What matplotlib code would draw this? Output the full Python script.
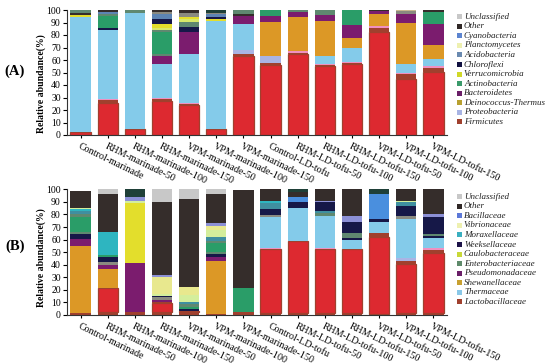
import matplotlib
matplotlib.use('Agg')
import matplotlib.pyplot as plt
from matplotlib.patches import Rectangle

plt.rcParams['font.family'] = ['Liberation Serif', 'DejaVu Serif']

samples = ['Control-marinade', 'RHM-marinade-50', 'RHM-marinade-100', 'RHM-marinade-150',
           'VPM-marinade-50', 'VPM-marinade-100', 'VPM-marinade-150',
           'Control-LD-tofu', 'RHM-LD-tofu-50', 'RHM-LD-tofu-100', 'RHM-LD-tofu-150',
           'VPM-LD-tofu-50', 'VPM-LD-tofu-100', 'VPM-LD-tofu-150']

# panel A (phylum level), stacked bottom to top
a_red = [2.5, 26, 4.5, 27.5, 24, 4.5, 63.5, 56.3, 65, 55, 57, 82.5, 44.5, 50.5]
a_brown = [0, 2, 0, 1.5, 1, 0, 1, 1, 1, 1, 1, 3.5, 4, 3.5]
a_pink = [0, 1, 0.5, 1, 1, 0.5, 0.5, 0.5, 1, 0.5, 0.5, 1.5, 1.5, 1]
a_lavender = [0, 0, 0, 0, 0, 0, 3, 5.2, 0, 0, 0, 0, 0, 0]
a_lightblue = [92, 55, 92.3, 27, 38.5, 86.5, 21, 0, 0, 6.5, 11.5, 0, 7, 6]
a_orange = [0, 0, 0, 0, 0, 0, 0, 27.7, 27.7, 28, 8, 9.5, 33, 11]
a_purple = [0, 0, 0, 6.5, 18.2, 0, 6, 4.3, 4, 5, 10, 2, 7, 17]
a_navy1 = [0, 2, 0, 0, 4, 0, 0, 0, 0, 0, 0, 0, 0, 0]
a_ggreen1 = [0, 0, 2.7, 1.5, 4, 0, 0, 0, 0, 0, 0, 0, 0, 0]
a_green = [0, 9, 0, 17.5, 0, 0, 0, 5, 0, 0, 12, 0, 0, 9.5]
a_ggreen2 = [0, 2, 0, 1.5, 0, 0, 0, 0, 1.3, 4, 0, 0, 0, 0]
a_yellowgreen = [0, 0, 0, 2, 1.8, 0, 0, 0, 0, 0, 0, 0, 0, 0]
a_yellow = [1.5, 0, 0, 3, 2.2, 1.5, 0, 0, 0, 0, 0, 0, 0, 0]
a_navy2 = [0, 0, 0, 4, 0, 1.5, 0, 0, 0, 0, 0, 0, 0, 0]
a_steel = [0, 1.5, 0, 3.5, 0, 2, 0, 0, 0, 0, 0, 0, 0, 0]
a_gray = [0, 0, 0, 2, 2.6, 1.5, 0, 0, 0, 0, 0, 0, 2, 0]
a_dark = [1.5, 1.5, 0, 1.5, 2.7, 0, 2, 0, 0, 0, 0, 1, 0, 1.5]
a_ggreen3 = [2.5, 0, 0, 0, 0, 0, 3, 0, 0, 0, 0, 0, 0, 0]
a_darkteal = [0, 0, 0, 0, 0, 2, 0, 0, 0, 0, 0, 0, 0, 0]
a_tan = [0, 0, 0, 0, 0, 0, 0, 0, 0, 0, 0, 0, 1, 0]

# panel B (family level), stacked bottom to top
b_brown0 = [1.5, 2, 2, 2, 2, 1, 2, 1.5, 1.5, 1.5, 1.5, 1, 1.5, 1.5]
b_red = [0, 19.2, 0, 7.3, 1.4, 0, 0, 51, 57, 51, 51, 61, 39.3, 47.5]
b_brown1 = [0, 0, 0, 1.2, 0, 0, 0, 0, 0, 0, 0, 3, 2.2, 3]
b_pink = [0, 0, 0, 0, 0, 0, 0, 0.5, 0, 0.5, 0, 0, 0, 1]
b_lavender = [0, 0, 0, 0, 0, 0, 0, 0, 0, 0, 0, 0, 2.5, 0]
b_lightblue = [0, 0, 0, 0, 0, 0, 0, 25, 26.5, 26, 7.5, 9, 31, 8.5]
b_orange = [53.7, 15.4, 0, 0, 0, 42, 0, 0, 0, 0, 0, 0, 0, 0]
b_purple = [5, 3.4, 39, 1.5, 0, 3, 0, 0, 0, 0, 0, 0, 0, 0]
b_gray1 = [0, 2, 0, 2, 0, 0, 0, 1.5, 0, 0, 0, 0, 2.5, 0]
b_navy1 = [4.3, 4, 0, 1, 1.3, 2.5, 0, 4.5, 4.5, 0, 1.5, 2, 7.7, 1]
b_ggreen1 = [1.5, 0, 0, 0, 0, 2, 0, 0, 0, 2, 3.5, 0, 0, 2]
b_green = [12, 2, 0, 0, 1.9, 6.5, 19.2, 0, 0, 0, 0, 0, 0, 0]
b_ggreen2 = [2, 0, 0, 0, 1.9, 1.5, 0, 0, 0, 0, 0, 0, 0, 0]
b_steel = [2.5, 0, 0, 0, 1.6, 3.5, 0, 5, 0, 2, 0, 0, 3.2, 0]
b_cyan = [1.5, 18, 0, 0, 0, 0, 0, 1.5, 0, 0, 0, 0, 0, 0]
b_yellow = [0, 0, 48, 0, 0, 0, 0, 0, 0, 0, 0, 0, 0, 0]
b_palegreen = [1, 0, 2, 2, 5.8, 6, 0, 0, 0, 0, 0, 0, 1.1, 0]
b_paleyellow = [0, 0, 0, 13.5, 6.6, 3, 0, 0, 0, 0, 0, 0, 0, 0]
b_navy2 = [0, 0, 0, 0, 0, 0, 0, 0, 0, 7, 9, 0, 0, 13.5]
b_lavender2 = [0, 0, 3, 1.5, 0, 2, 0, 0, 0, 1, 4.5, 0, 0, 2]
b_blue = [0, 0, 0, 0, 0, 0, 0, 0, 4.5, 0, 0, 20, 0, 0]
b_dark = [13.5, 30.5, 0, 58, 70, 23, 78.3, 9.5, 4, 9, 21.5, 0, 9, 20]
b_darkteal = [0, 0, 6, 0, 0, 0, 0, 0, 2, 0, 0, 4, 0, 0]
b_lightgray = [0, 3.5, 0, 10, 7.5, 4, 0, 0, 0, 0, 0, 0, 0, 0]

legend_a = ['Unclassified', 'Other', 'Cyanobacteria', 'Planctomycetes', 'Acidobacteria',
            'Chloroflexi', 'Verrucomicrobia', 'Actinobacteria', 'Bacteroidetes',
            'Deinococcus-Thermus', 'Proteobacteria', 'Firmicutes']
legend_b = ['Unclassified', 'Other', 'Bacillaceae', 'Vibrionaceae', 'Moraxellaceae',
            'Weeksellaceae', 'Caulobacteraceae', 'Enterobacteriaceae', 'Pseudomonadaceae',
            'Shewanellaceae', 'Thermaceae', 'Lactobacillaceae']

RED = '#DD2930'
BROWN = '#A0402E'
PINK = '#F090C0'
LAV = '#AAB4E4'
LBLUE = '#84CBEA'
ORANGE = '#DC9826'
PURPLE = '#7B1C6E'
NAVY = '#161848'
GGREEN = '#5F8870'
GREEN = '#2A9D68'
YGREEN = '#D8E86A'
YELLOW = '#E3DE2C'
STEEL = '#5D84B3'
GRAY = '#8A8A80'
DARK = '#352D2B'
DTEAL = '#1F4038'
TAN = '#C8B890'
LGRAY = '#C8C8C8'
CYAN = '#2EB5C0'
PALEYEL = '#E8E88E'
PALEGRN = '#D4EE9C'
LAV2 = '#8C90D6'
BLUE = '#4A8FDE'
TEAL = '#3F8FA0'

layers_a = [(a_red, RED), (a_brown, BROWN), (a_pink, PINK), (a_lavender, LAV),
            (a_lightblue, LBLUE), (a_orange, ORANGE), (a_purple, PURPLE),
            (a_navy1, NAVY), (a_ggreen1, GGREEN), (a_green, GREEN), (a_ggreen2, GGREEN),
            (a_yellowgreen, YGREEN), (a_yellow, YELLOW), (a_navy2, NAVY), (a_steel, STEEL),
            (a_gray, GRAY), (a_dark, DARK), (a_ggreen3, GGREEN), (a_darkteal, DTEAL),
            (a_tan, TAN)]
layers_b = [(b_brown0, BROWN), (b_red, RED), (b_brown1, BROWN), (b_pink, PINK),
            (b_lavender, LAV), (b_lightblue, LBLUE), (b_orange, ORANGE), (b_purple, PURPLE),
            (b_gray1, GRAY), (b_navy1, NAVY), (b_ggreen1, GGREEN), (b_green, GREEN),
            (b_ggreen2, GGREEN), (b_steel, TEAL), (b_cyan, CYAN), (b_yellow, YELLOW),
            (b_palegreen, PALEGRN), (b_paleyellow, PALEYEL), (b_navy2, NAVY),
            (b_lavender2, LAV2), (b_blue, BLUE), (b_dark, DARK), (b_darkteal, DTEAL),
            (b_lightgray, LGRAY)]

colors_leg_a = [LGRAY, '#302826', '#5C84D0', '#EEF0B0', '#6A8AB0', '#101040', '#D0D828',
                '#3A9A6A', '#6A1E68', '#B8A030', '#A8B4E4', BROWN]
colors_leg_b = [LGRAY, '#302826', '#5C78D8', '#EEF0B0', '#3AAFC0', '#1C1248', '#C8D838',
                '#5E8A6A', '#6A1E68', '#C8A030', '#8AC8E8', BROWN]

W, H = 550, 364
fig = plt.figure(figsize=(5.5, 3.64), dpi=100)


def px(x0, y0, x1, y1):
    return [x0 / W, 1 - y1 / H, (x1 - x0) / W, (y1 - y0) / H]


def draw_panel(ax, layers):
    x = list(range(len(samples)))
    bottom = [0.0] * len(samples)
    for vals, col in layers:
        if col == RED:
            lw = [0.9 if v > 0 else 0 for v in vals]
            ax.bar(x, vals, width=0.75, bottom=bottom, color=col,
                   edgecolor=BROWN, linewidth=lw)
        else:
            ax.bar(x, vals, width=0.75, bottom=bottom, color=col, linewidth=0)
        bottom = [b + v for b, v in zip(bottom, vals)]
    ax.set_xlim(-0.5, len(samples) - 0.5)
    ax.set_ylim(0, 100)
    ax.set_yticks(range(0, 101, 10))
    ax.set_xticks(x)
    ax.set_xticklabels(samples, rotation=-26, ha='left', va='top',
                       rotation_mode='anchor', fontsize=7.2)
    ax.tick_params(axis='y', labelsize=7, length=3, width=0.8, pad=1.5)
    ax.tick_params(axis='x', length=2.5, width=0.8, pad=2)
    for s in ['top', 'right']:
        ax.spines[s].set_visible(False)
    for s in ['left', 'bottom']:
        ax.spines[s].set_linewidth(0.8)
        ax.spines[s].set_color('#333333')


def draw_legend(names, cols, y_first):
    step = 9.57
    for i, (n, c) in enumerate(zip(names, cols)):
        yc = y_first + i * step
        fig.add_artist(Rectangle((457 / W, 1 - (yc + 2.5) / H), 5 / W, 5 / H,
                                 transform=fig.transFigure, facecolor=c,
                                 edgecolor='none'))
        fig.text(464 / W, 1 - yc / H, n, fontsize=6.5, style='italic',
                 ha='left', va='center', color='#222222')


ax_a = fig.add_axes(px(67, 10, 447, 135))
draw_panel(ax_a, layers_a)
ax_b = fig.add_axes(px(67, 189.3, 447, 315))
draw_panel(ax_b, layers_b)

draw_legend(legend_a, colors_leg_a, 16.7)
draw_legend(legend_b, colors_leg_b, 196.7)

fig.text(41.5 / W, 1 - 84 / H, 'Relative abundance(%)', rotation=90, fontsize=7,
         fontweight='bold', ha='center', va='center')
fig.text(41.5 / W, 1 - 258 / H, 'Relative abundance(%)', rotation=90, fontsize=7,
         fontweight='bold', ha='center', va='center')
fig.text(15 / W, 1 - 71 / H, '(A)', fontsize=10.5, fontweight='bold',
         ha='center', va='center')
fig.text(15 / W, 1 - 246 / H, '(B)', fontsize=10.5, fontweight='bold',
         ha='center', va='center')

fig.savefig('out.png', dpi=100)
